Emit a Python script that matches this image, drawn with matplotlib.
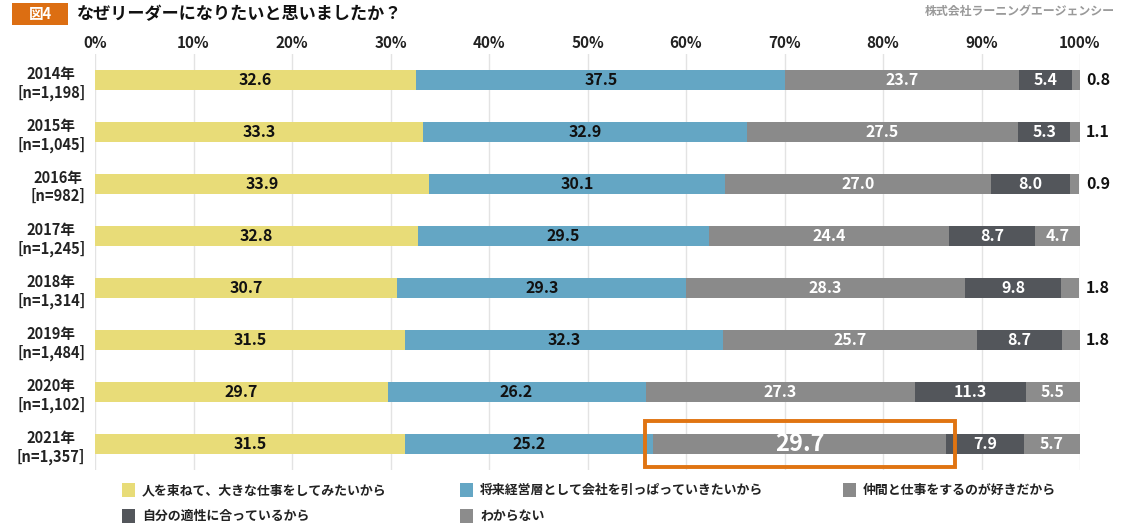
import matplotlib
matplotlib.use("Agg")
import matplotlib.pyplot as plt
from matplotlib.patches import Rectangle
import numpy as np

plt.rcParams['font.family'] = ['Noto Sans CJK JP', 'DejaVu Sans']

years = ["2014年\n[n=1,198]", "2015年\n[n=1,045]", "2016年\n[n=982]", "2017年\n[n=1,245]",
         "2018年\n[n=1,314]", "2019年\n[n=1,484]", "2020年\n[n=1,102]", "2021年\n[n=1,357]"]
series_names = ["人を束ねて、大きな仕事をしてみたいから",
                "将来経営層として会社を引っぱっていきたいから",
                "仲間と仕事をするのが好きだから",
                "自分の適性に合っているから",
                "わからない"]
s1 = [32.6, 33.3, 33.9, 32.8, 30.7, 31.5, 29.7, 31.5]
s2 = [37.5, 32.9, 30.1, 29.5, 29.3, 32.3, 26.2, 25.2]
s3 = [23.7, 27.5, 27.0, 24.4, 28.3, 25.7, 27.3, 29.7]
s4 = [5.4, 5.3, 8.0, 8.7, 9.8, 8.7, 11.3, 7.9]
s5 = [0.8, 1.1, 0.9, 4.7, 1.8, 1.8, 5.5, 5.7]
xticks = [0, 10, 20, 30, 40, 50, 60, 70, 80, 90, 100]

colors = ["#E8DC78", "#64A6C4", "#8A8A8A", "#53565B", "#8C8C8C"]
text_colors = ["#111111", "#111111", "white", "white", "white"]

fig = plt.figure(figsize=(11.21, 5.26), dpi=100)
ax = fig.add_axes([95/1121, 1-470/526, 985/1121, 416/526])

data = [s1, s2, s3, s4, s5]
y = np.arange(len(years))
left = np.zeros(len(years))
for i, s in enumerate(data):
    s = np.array(s)
    ax.barh(y, s, left=left, height=0.4, color=colors[i], edgecolor='none', zorder=2)
    for j in range(len(years)):
        v = s[j]
        cx = left[j] + v / 2
        if i == 4 and v < 2:
            ax.text(100.6, y[j], f"{v:.1f}", ha='left', va='center', fontsize=11.5,
                    fontweight='bold', color='#111111')
        else:
            fs = 11.5
            if i == 2 and j == 7:
                fs = 17
            ax.text(cx, y[j], f"{v:.1f}", ha='center', va='center', fontsize=fs,
                    fontweight='bold', color=text_colors[i], zorder=3)
    left = left + s

# highlight box around 2021 third segment
j = 7
x0 = s1[j] + s2[j]
x1 = x0 + s3[j]
ax.add_patch(Rectangle((x0 - 0.9, j - 0.44), (x1 - x0) + 1.8, 0.88, fill=False,
                       edgecolor='#E07412', linewidth=2.8, zorder=4, clip_on=False))

ax.set_xlim(0, 100)
ax.set_ylim(len(years) - 0.5, -0.5)
ax.xaxis.tick_top()
ax.set_xticks(xticks)
ax.set_xticklabels([f"{t}%" for t in xticks], fontsize=11, fontweight='bold', color='#222222')
ax.tick_params(axis='x', length=0, pad=2)
ax.set_yticks(y)
ax.set_yticklabels(years, fontsize=10.5, fontweight='bold', color='#222222', multialignment='center')
ax.tick_params(axis='y', length=0, pad=7)
ax.grid(axis='x', color='#E3E3E3', linewidth=1, zorder=0)
for sp in ax.spines.values():
    sp.set_visible(False)

# title
fig.patches.append(Rectangle((12/1121, 1-25/526), 56/1121, 22/526, transform=fig.transFigure,
                             facecolor='#DC6E12', edgecolor='none'))
fig.text(40/1121, 1-14/526, "図4", ha='center', va='center', fontsize=10.5, fontweight='bold', color='white')
fig.text(77/1121, 1-14/526, "なぜリーダーになりたいと思いましたか？", ha='left', va='center',
         fontsize=12.3, fontweight='bold', color='#111111')
fig.text(1115/1121, 1-12/526, "株式会社ラーニングエージェンシー", ha='right', va='center',
         fontsize=8.6, fontweight='bold', color='#999999')

# legend
leg_pos = [(122, 490), (460, 490), (843, 490), (122, 516), (460, 516)]
for (lx, ly), name, c in zip(leg_pos, series_names, colors):
    fig.patches.append(Rectangle((lx/1121, 1-(ly+7)/526), 13/1121, 14/526, transform=fig.transFigure,
                                 facecolor=c, edgecolor='none'))
    fig.text((lx+20)/1121, 1-ly/526, name, ha='left', va='center', fontsize=9.3,
             fontweight='bold', color='#222222')

fig.savefig("out.png", dpi=100)
